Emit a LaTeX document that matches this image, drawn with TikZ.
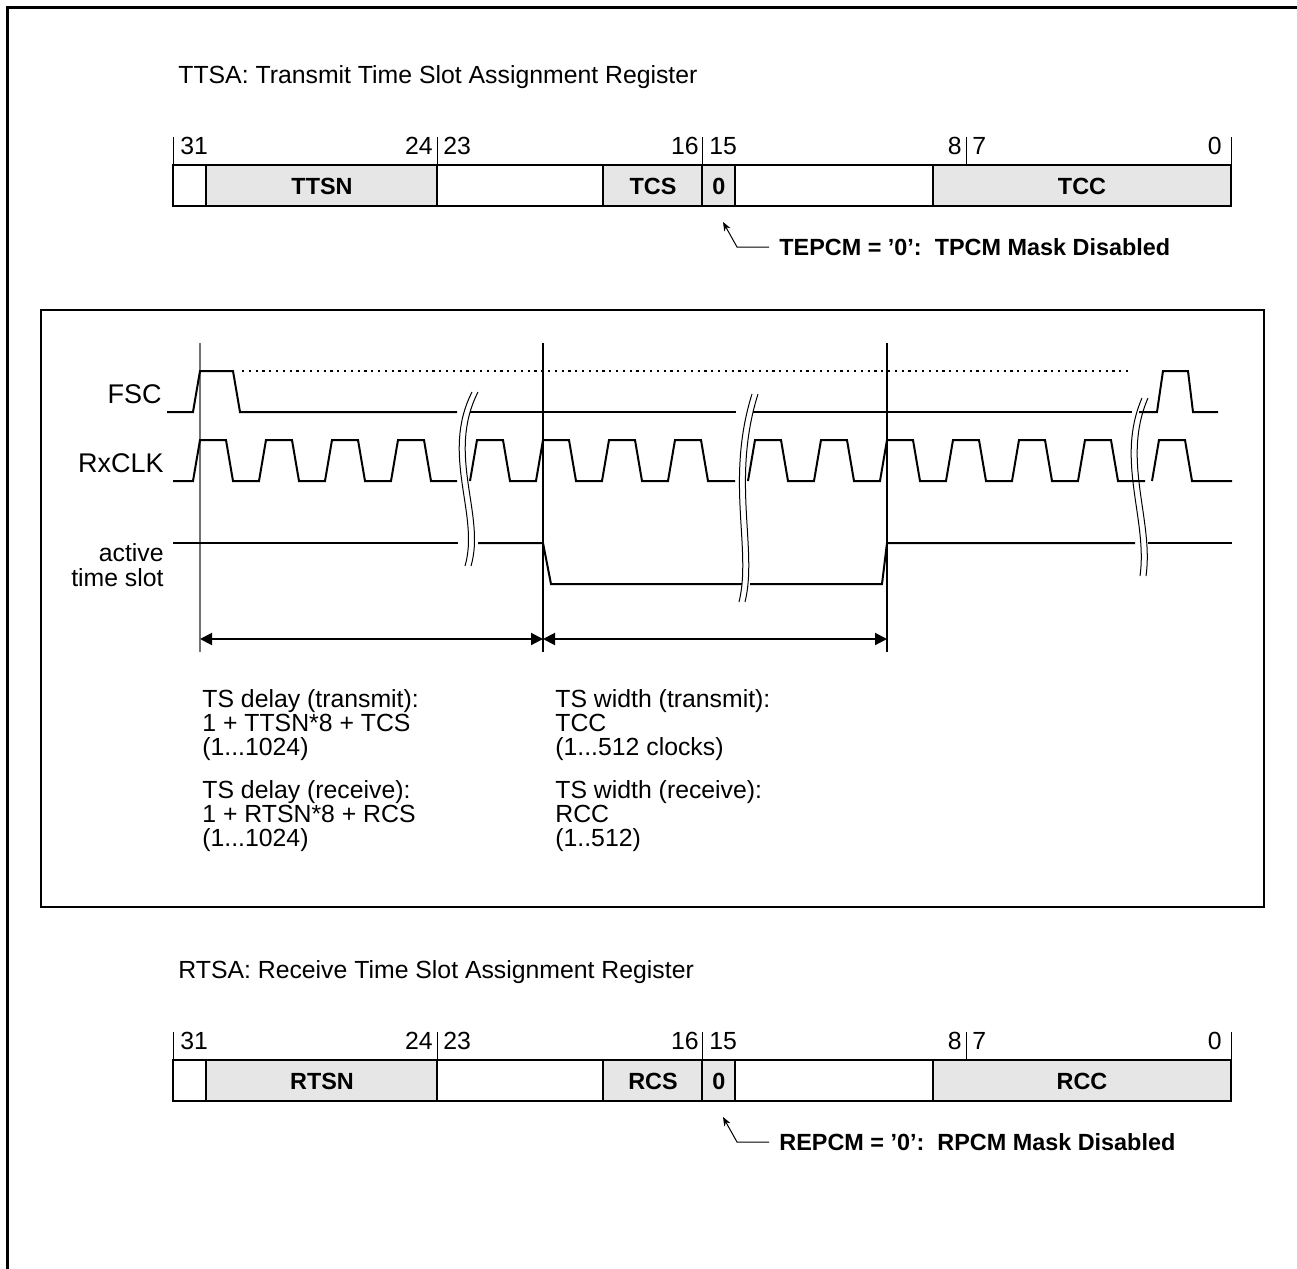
\documentclass[tikz,border=0pt]{standalone}
\usepackage{fontspec}
\setmainfont{Liberation Sans}
\usetikzlibrary{arrows.meta}
\definecolor{fieldgray}{RGB}{230,230,230}

\begin{document}
\begin{tikzpicture}[x=0.5pt,y=-0.5pt,
  txt/.style={font=\fontsize{12.4}{13}\selectfont,inner sep=0pt},
  bold/.style={font=\fontsize{11.7}{14}\selectfont\bfseries,inner sep=0pt},
  big/.style={font=\fontsize{13.5}{16}\selectfont,inner sep=0pt},
  sig/.style={line width=1pt,line join=miter},
  brk/.style={line width=0.5pt},
  dim/.style={line width=1pt,{Triangle[length=6pt,width=6pt]}-{Triangle[length=6pt,width=6pt]}}]
\useasboundingbox (0,0) rectangle (1297,1269);
% frames
\draw[line width=1.5pt] (7,1280) -- (7,7) -- (1310,7);
\draw[line width=0.75pt] (41,310) rectangle (1264,907);

% the two registers
\foreach \dy/\p/\word in {0/T/Transmit,895/R/Receive}{
  \node[txt,anchor=west] (\p title) at (178,\dy+77) {\p TSA: \word\ Time Slot Assignment Register};
  \fill[fieldgray] (206,\dy+165) rectangle (437,\dy+206);
  \fill[fieldgray] (603,\dy+165) rectangle (735,\dy+206);
  \fill[fieldgray] (933,\dy+165) rectangle (1231,\dy+206);
  \draw[line width=1pt] (173,\dy+165) rectangle (1231,\dy+206);
  \foreach \xb in {206,437,603,702,735,933}
    \draw[line width=1pt] (\xb,\dy+165) -- (\xb,\dy+206);
  \foreach \xb in {173,437,702,966,1231}
    \draw[line width=0.5pt] (\xb,\dy+137) -- (\xb,\dy+165);
  \foreach \xn/\n/\a in {180/31/west,433/24/east,443/23/west,699/16/east,709/15/west,962/8/east,972/7/west,1222/0/east}
    \node[txt,anchor=\a] (\p b\n) at (\xn,\dy+146) {\n};
  \node[bold] (\p sn) at (322,\dy+186) {\p TSN};
  \node[bold] (\p cs) at (653,\dy+186) {\p CS};
  \node[bold] (\p zero) at (719,\dy+186) {0};
  \node[bold] (\p cc) at (1082,\dy+186) {\p CC};
  \node[bold,anchor=west] (\p note) at (779,\dy+247) {\p EPCM = '0':\ \ \p PCM Mask Disabled};
  \coordinate (\p tip) at (723,\dy+222);
  \draw[line width=0.5pt,-{Stealth[length=4.5pt,width=3.5pt]}] (\p note.west) ++(-10,0) -- ++(-32,0) -- (\p tip);
}

% signal names
\node[big,anchor=base east] (fsc) at (162,403) {FSC};
\node[big,anchor=base east] (clk) at (164,472) {RxCLK};
\node[txt,anchor=base east] (ats1) at (164,561) {active};
\node[txt,anchor=base east] (ats2) at (164,586) {time slot};

% reference lines and spans
\foreach \xv/\n/\c in {200/1/black!55,543/2/black,887/3/black}{
  \coordinate (top\n) at (\xv,343);
  \coordinate (bot\n) at (\xv,652);
  \coordinate (dim\n) at (\xv,639);
  \draw[line width=0.6pt,\c] (top\n) -- (bot\n);
}
\draw[dim] (dim1) -- (dim2);
\draw[dim] (dim2) -- (dim3);

% FSC
\draw[sig] (167,412) -- (193,412) -- (200,371) -- (233,371) -- (240,412) -- (457,412);
\draw[sig] (470,412) -- (736,412);
\draw[sig] (753,412) -- (1132,412);
\draw[sig] (1139,412) -- (1157,412) -- (1163,371) -- (1188,371) -- (1193,412) -- (1218,412);
\draw[line width=1.1pt,dash pattern=on 1.1pt off 2.3pt] (242,371) -- (1132,371);

% RxCLK
\draw[sig] (173,481) foreach \r in {193,259,325,391}{ -- (\r,481) -- (\r+7,440) -- (\r+33,440) -- (\r+40,481)} -- (457,481);
\draw[sig] (470,481) foreach \r in {470,536,602,668}{ -- (\r,481) -- (\r+7,440) -- (\r+33,440) -- (\r+40,481)} -- (735,481);
\draw[sig] (748,481) foreach \r in {748,814,880,946,1012,1078}{ -- (\r,481) -- (\r+7,440) -- (\r+33,440) -- (\r+40,481)} -- (1145,481);
\draw[sig] (1152,481) -- (1159,440) -- (1185,440) -- (1192,481) -- (1232,481);

% active time slot
\draw[sig] (173,543) -- (458,543);
\draw[sig] (478,543) -- (543,543) -- (551,584) -- (742,584);
\draw[sig] (750,584) -- (882,584) -- (887,543) -- (1135,543);
\draw[sig] (1148,543) -- (1232,543);

% breaks
\foreach \d in {0,6}{
  \draw[brk] (472+\d,392) .. controls (440+\d,455) and (480+\d,515) .. (465+\d,566);
  \draw[brk] (752+\d,394) .. controls (725+\d,480) and (752+\d,550) .. (739+\d,602);
  \draw[brk] (1142+\d,398) .. controls (1115+\d,460) and (1148+\d,520) .. (1140+\d,576);
}

% formulas
\node[txt,anchor=base west] (dl1) at (202,707) {TS delay (transmit):};
\node[txt,anchor=base west] (dl2) at (202,731) {1 + TTSN*8 + TCS};
\node[txt,anchor=base west] (dl3) at (202,755) {(1...1024)};
\node[txt,anchor=base west] (dl4) at (202,798) {TS delay (receive):};
\node[txt,anchor=base west] (dl5) at (202,822) {1 + RTSN*8 + RCS};
\node[txt,anchor=base west] (dl6) at (202,846) {(1...1024)};
\node[txt,anchor=base west] (wd1) at (555,707) {TS width (transmit):};
\node[txt,anchor=base west] (wd2) at (555,731) {TCC};
\node[txt,anchor=base west] (wd3) at (555,755) {(1...512 clocks)};
\node[txt,anchor=base west] (wd4) at (555,798) {TS width (receive):};
\node[txt,anchor=base west] (wd5) at (555,822) {RCC};
\node[txt,anchor=base west] (wd6) at (555,846) {(1..512)};
\end{tikzpicture}
\end{document}
